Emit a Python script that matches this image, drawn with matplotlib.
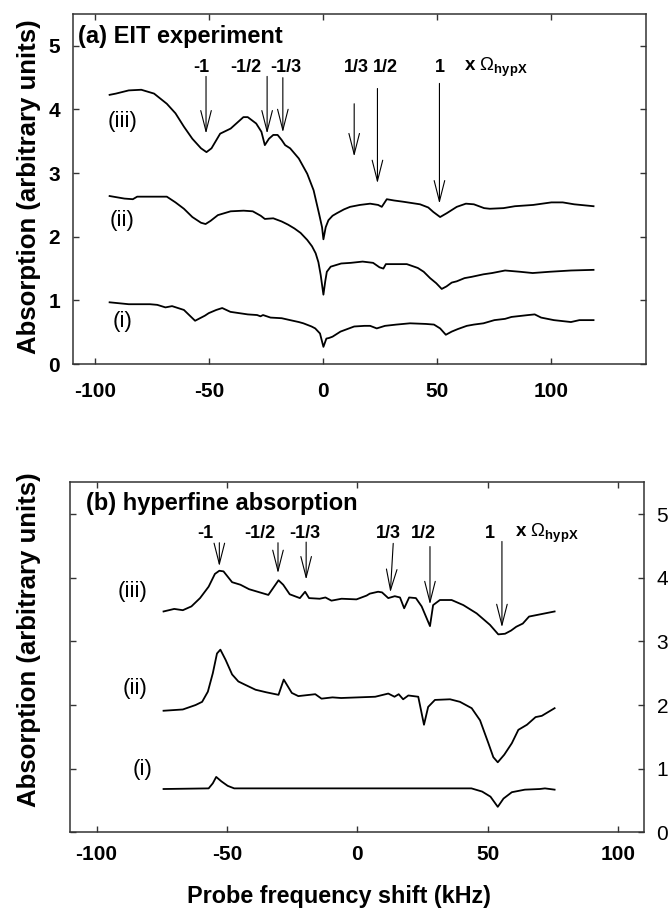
import matplotlib
matplotlib.use('Agg')
import matplotlib.pyplot as plt

plt.rcParams['font.family'] = ['Liberation Sans', 'DejaVu Sans']
plt.rcParams['mathtext.fontset'] = 'custom'
plt.rcParams['mathtext.rm'] = 'Liberation Sans'
plt.rcParams['mathtext.bf'] = 'Liberation Sans:bold'
plt.rcParams['axes.unicode_minus'] = False

# ---- (a) EIT experiment ----
a3_x = [-93.8, -91, -85.4, -79.9, -74.3, -68.7, -64.9, -61.2, -57.5, -53.7, -51.3, -49.1, -45.3, -40.7,
        -35.1, -33.2, -29.5, -27.2, -25.7, -23.9, -22.0, -20.1, -18.3, -16.8, -14.6, -10.8, -7.1, -4.3,
        -1.9, -0.6, 0, 1.0, 2.2, 4.0, 5.9, 9.0, 11.7, 16, 20.5, 24, 25.6, 27.8, 31, 35.1, 42.4, 46, 48.2,
        51.2, 54.1, 58.5, 62.5, 66, 70.5, 73, 79, 84, 92, 100, 105, 110, 118.5]
a3_y = [4.23, 4.25, 4.30, 4.31, 4.25, 4.09, 3.94, 3.73, 3.54, 3.39, 3.33, 3.39, 3.62, 3.70,
        3.88, 3.88, 3.78, 3.65, 3.44, 3.54, 3.60, 3.60, 3.52, 3.44, 3.39, 3.23, 2.99, 2.73,
        2.36, 2.15, 1.96, 2.15, 2.26, 2.33, 2.37, 2.43, 2.47, 2.50, 2.52, 2.50, 2.47, 2.59, 2.57, 2.55, 2.51, 2.46, 2.39,
        2.31, 2.37, 2.47, 2.52, 2.51, 2.45, 2.44, 2.45, 2.48, 2.50, 2.54, 2.54, 2.51, 2.48]

a2_x = [-93.8, -87.3, -83.6, -81.7, -75, -68.7, -64.9, -61.2, -57.5, -53.7, -51.7, -49.5, -46.3, -40.7,
        -35, -31, -29.5, -27.5, -25.7, -22, -18.3, -15.5, -12.7, -10, -7.1, -5, -3.4, -2.2, -1.2, 0,
        0.8, 1.5, 3.2, 7.8, 12, 17.2, 21.8, 24.6, 26.3, 27.4, 31, 36.6, 41.4, 44, 46.8, 49.5, 51.9, 54,
        56.3, 58.5, 61.9, 65, 70.2, 74, 79.7, 86.2, 91.8, 99.3, 108.6, 118.5]
a2_y = [2.64, 2.60, 2.59, 2.63, 2.63, 2.63, 2.54, 2.44, 2.31, 2.22, 2.20, 2.25, 2.34, 2.40,
        2.41, 2.40, 2.37, 2.33, 2.28, 2.29, 2.24, 2.19, 2.13, 2.06, 1.95, 1.85, 1.74, 1.60, 1.40, 1.09,
        1.30, 1.45, 1.53, 1.58, 1.59, 1.61, 1.59, 1.52, 1.50, 1.57, 1.57, 1.57, 1.51, 1.45, 1.35, 1.27, 1.18, 1.22,
        1.28, 1.30, 1.35, 1.37, 1.41, 1.43, 1.47, 1.45, 1.43, 1.45, 1.47, 1.48]

a1_x = [-93.8, -85.4, -76.1, -72.9, -69.3, -66.4, -61.2, -56.3, -52, -50.3, -47, -44.4, -40.8, -33.2,
        -29.1, -27.6, -26.5, -23.2, -18.3, -14.6, -10.8, -8.8, -5.2, -3.6, -1.5, 0, 1.3, 2.5, 4, 7.5,
        13.5, 18, 20.5, 23.4, 27, 32, 38, 45, 48.5, 51.2, 53.7, 56.3, 59, 62.9, 66, 70.2, 75, 79.7,
        82.5, 89.9, 92.7, 95.5, 101.1, 108.6, 112.3, 118.5]
a1_y = [0.97, 0.94, 0.94, 0.93, 0.89, 0.91, 0.85, 0.68, 0.76, 0.80, 0.85, 0.88, 0.82, 0.78,
        0.77, 0.75, 0.77, 0.73, 0.72, 0.69, 0.66, 0.64, 0.59, 0.56, 0.48, 0.27, 0.40, 0.41, 0.43, 0.51,
        0.59, 0.60, 0.60, 0.56, 0.60, 0.62, 0.64, 0.63, 0.62, 0.56, 0.46, 0.51, 0.55, 0.60, 0.62, 0.64, 0.69, 0.71,
        0.74, 0.77, 0.78, 0.73, 0.69, 0.66, 0.69, 0.69]

a_arrow_x = [-51.5, -24.7, -17.8, 13.5, 23.7, 50.9]
a_arrow_top = [4.52, 4.52, 4.50, 4.09, 4.33, 4.41]
a_arrow_tip = [3.62, 3.62, 3.64, 3.26, 2.84, 2.52]
a_label_x = [-53.6, -34.2, -16.5, 14.3, 27.1, 50.9]

# ---- (b) hyperfine absorption ----
b3_x = [-74.3, -70.2, -66.9, -63.6, -60.3, -57.0, -54.6, -52.9, -51.3, -48.0, -44.8, -41.5, -37.4, -34.1,
        -30.2, -28.4, -25.9, -22.0, -20.0, -18.5, -14.4, -12.2, -9.9, -6.0, -0.3, 3.6, 4.8, 8.0, 9.5,
        11.9, 14.4, 16.4, 18.0, 19.9, 22.5, 24.7, 27.9, 29.1, 31.7, 36.2, 40.7, 45.8, 50.9, 54.1, 56.7,
        59, 61.0, 63.5, 65.9, 70.8, 75.7]
b3_y = [3.47, 3.51, 3.49, 3.55, 3.68, 3.86, 4.06, 4.11, 4.10, 3.93, 3.89, 3.82, 3.77, 3.73,
        3.96, 3.89, 3.74, 3.68, 3.78, 3.68, 3.67, 3.69, 3.64, 3.67, 3.66, 3.72, 3.75, 3.78, 3.77,
        3.68, 3.71, 3.69, 3.52, 3.69, 3.68, 3.55, 3.24, 3.57, 3.65, 3.65, 3.57, 3.44, 3.26, 3.11, 3.12,
        3.17, 3.23, 3.28, 3.39, 3.43, 3.47]

b2_x = [-74.3, -66.9, -62.0, -59.5, -57.3, -55.4, -53.8, -52.5, -50.5, -48.0, -45.6, -43.1, -39.0, -34.9,
        -30.2, -28.2, -25.1, -22.6, -16.1, -13.7, -9.5, -6.2, 0.3, 6.9, 11.9, 14.3, 15.9, 17.6, 19.6,
        23.4, 25.6, 27.2, 29.8, 35.6, 39.4, 43.9, 47.1, 50.3, 52.2, 53.9, 56.4, 59.3, 61.8, 65.1, 68.4,
        70.8, 75.7]
b2_y = [1.91, 1.93, 2.00, 2.05, 2.21, 2.50, 2.81, 2.87, 2.71, 2.48, 2.37, 2.32, 2.24, 2.20,
        2.16, 2.40, 2.19, 2.14, 2.17, 2.10, 2.12, 2.11, 2.12, 2.13, 2.18, 2.13, 2.17, 2.09, 2.15,
        2.13, 1.69, 1.97, 2.08, 2.09, 2.05, 1.95, 1.76, 1.40, 1.18, 1.10, 1.22, 1.40, 1.61, 1.69, 1.81,
        1.83, 1.95]

b1_x = [-74.3, -57, -55.4, -54.1, -52.1, -49.7, -47.2, 43.8, 47.9, 51.1, 53.9, 56.1, 59.3, 64.3, 70.0, 72, 75.7]
b1_y = [0.68, 0.69, 0.77, 0.87, 0.80, 0.73, 0.69, 0.69, 0.64, 0.56, 0.40, 0.53, 0.63, 0.67, 0.68, 0.69, 0.67]

b_arrow_x_top = [-52.9, -30.4, -19.6, 13.8, 27.9, 55.5]
b_arrow_x_tip = [-52.9, -30.4, -19.6, 12.7, 27.9, 55.5]
b_arrow_top = [4.55, 4.55, 4.56, 4.54, 4.49, 4.57]
b_arrow_tip = [4.18, 4.07, 3.97, 3.77, 3.58, 3.22]
b_label_x = [-58.3, -37.4, -20.1, 11.9, 25.3, 50.9]

order_labels = ['-1', '-1/2', '-1/3', '1/3', '1/2', '1']
xticks = [-100, -50, 0, 50, 100]
yticks = [0, 1, 2, 3, 4, 5]

fig = plt.figure(figsize=(6.68, 9.11), dpi=100)
ax1 = fig.add_axes([0.1088, 0.6004, 0.8582, 0.3842])
ax2 = fig.add_axes([0.1055, 0.0864, 0.8586, 0.3842])

lc = 'black'
arrow = dict(arrowstyle='->, head_length=1.5, head_width=0.38', lw=0.8, color='black',
             shrinkA=0, shrinkB=0, mutation_scale=10)

# panel a
for xs, ys in [(a3_x, a3_y), (a2_x, a2_y), (a1_x, a1_y)]:
    ax1.plot(xs, ys, color=lc, lw=1.3)
for lab, y in [('(iii)', 3.81), ('(ii)', 2.26), ('(i)', 0.67)]:
    ax1.text(-88.3, y, lab, fontsize=16, ha='center', va='center')
for i in range(len(a_arrow_x)):
    ax1.annotate('', xy=(a_arrow_x[i], a_arrow_tip[i]), xytext=(a_arrow_x[i], a_arrow_top[i]),
                 arrowprops=arrow)
    ax1.text(a_label_x[i], 4.66, order_labels[i], fontsize=13, fontweight='bold',
             ha='center', va='center')
ax1.text(61.5, 4.66, r'x $\Omega_{\mathbf{hypX}}$', fontsize=13.5, fontweight='bold',
         ha='left', va='center')
ax1.text(-107.5, 5.14, '(a) EIT experiment', fontsize=17, fontweight='bold', ha='left', va='center')
ax1.set_xlim(-110, 141.5)
ax1.set_ylim(0, 5.5)

# panel b
for xs, ys in [(b3_x, b3_y), (b2_x, b2_y), (b1_x, b1_y)]:
    ax2.plot(xs, ys, color=lc, lw=1.3)
for lab, x, y in [('(iii)', -86.1, 3.78), ('(ii)', -85.4, 2.26), ('(i)', -82.2, 0.98)]:
    ax2.text(x, y, lab, fontsize=16, ha='center', va='center')
for i in range(len(b_arrow_top)):
    ax2.annotate('', xy=(b_arrow_x_tip[i], b_arrow_tip[i]), xytext=(b_arrow_x_top[i], b_arrow_top[i]),
                 arrowprops=arrow)
    ax2.text(b_label_x[i], 4.70, order_labels[i], fontsize=13, fontweight='bold',
             ha='center', va='center')
ax2.text(60.5, 4.70, r'x $\Omega_{\mathbf{hypX}}$', fontsize=13.5, fontweight='bold',
         ha='left', va='center')
ax2.text(-104, 5.17, '(b) hyperfine absorption', fontsize=17, fontweight='bold', ha='left', va='center')
ax2.set_xlim(-110, 110)
ax2.set_ylim(0, 5.5)

for ax in (ax1, ax2):
    ax.set_xticks(xticks)
    ax.set_yticks(yticks)
    for sp in ax.spines.values():
        sp.set_linewidth(1.1)
        sp.set_color('#333333')
    ax.tick_params(direction='in', length=4, width=1.0, color='#333333',
                   top=True, right=True, labelsize=15)
    for t in ax.get_xticklabels() + ax.get_yticklabels():
        t.set_fontweight('bold')

ax1.tick_params(axis='x', pad=13)
ax1.tick_params(axis='y', pad=9)
ax2.tick_params(axis='x', pad=9)
ax2.tick_params(axis='y', pad=9, labelleft=False, labelright=True)

fig.text(29 / 668, 1 - 187 / 911, 'Absorption (arbitrary units)', rotation=90, fontsize=18.5,
         fontweight='bold', ha='center', va='center')
fig.text(29 / 668, 1 - 640 / 911, 'Absorption (arbitrary units)', rotation=90, fontsize=18.5,
         fontweight='bold', ha='center', va='center')
fig.text(339 / 668, 1 - 896 / 911, 'Probe frequency shift (kHz)', fontsize=16.8,
         fontweight='bold', ha='center', va='center')

fig.savefig('out.png', dpi=100)
